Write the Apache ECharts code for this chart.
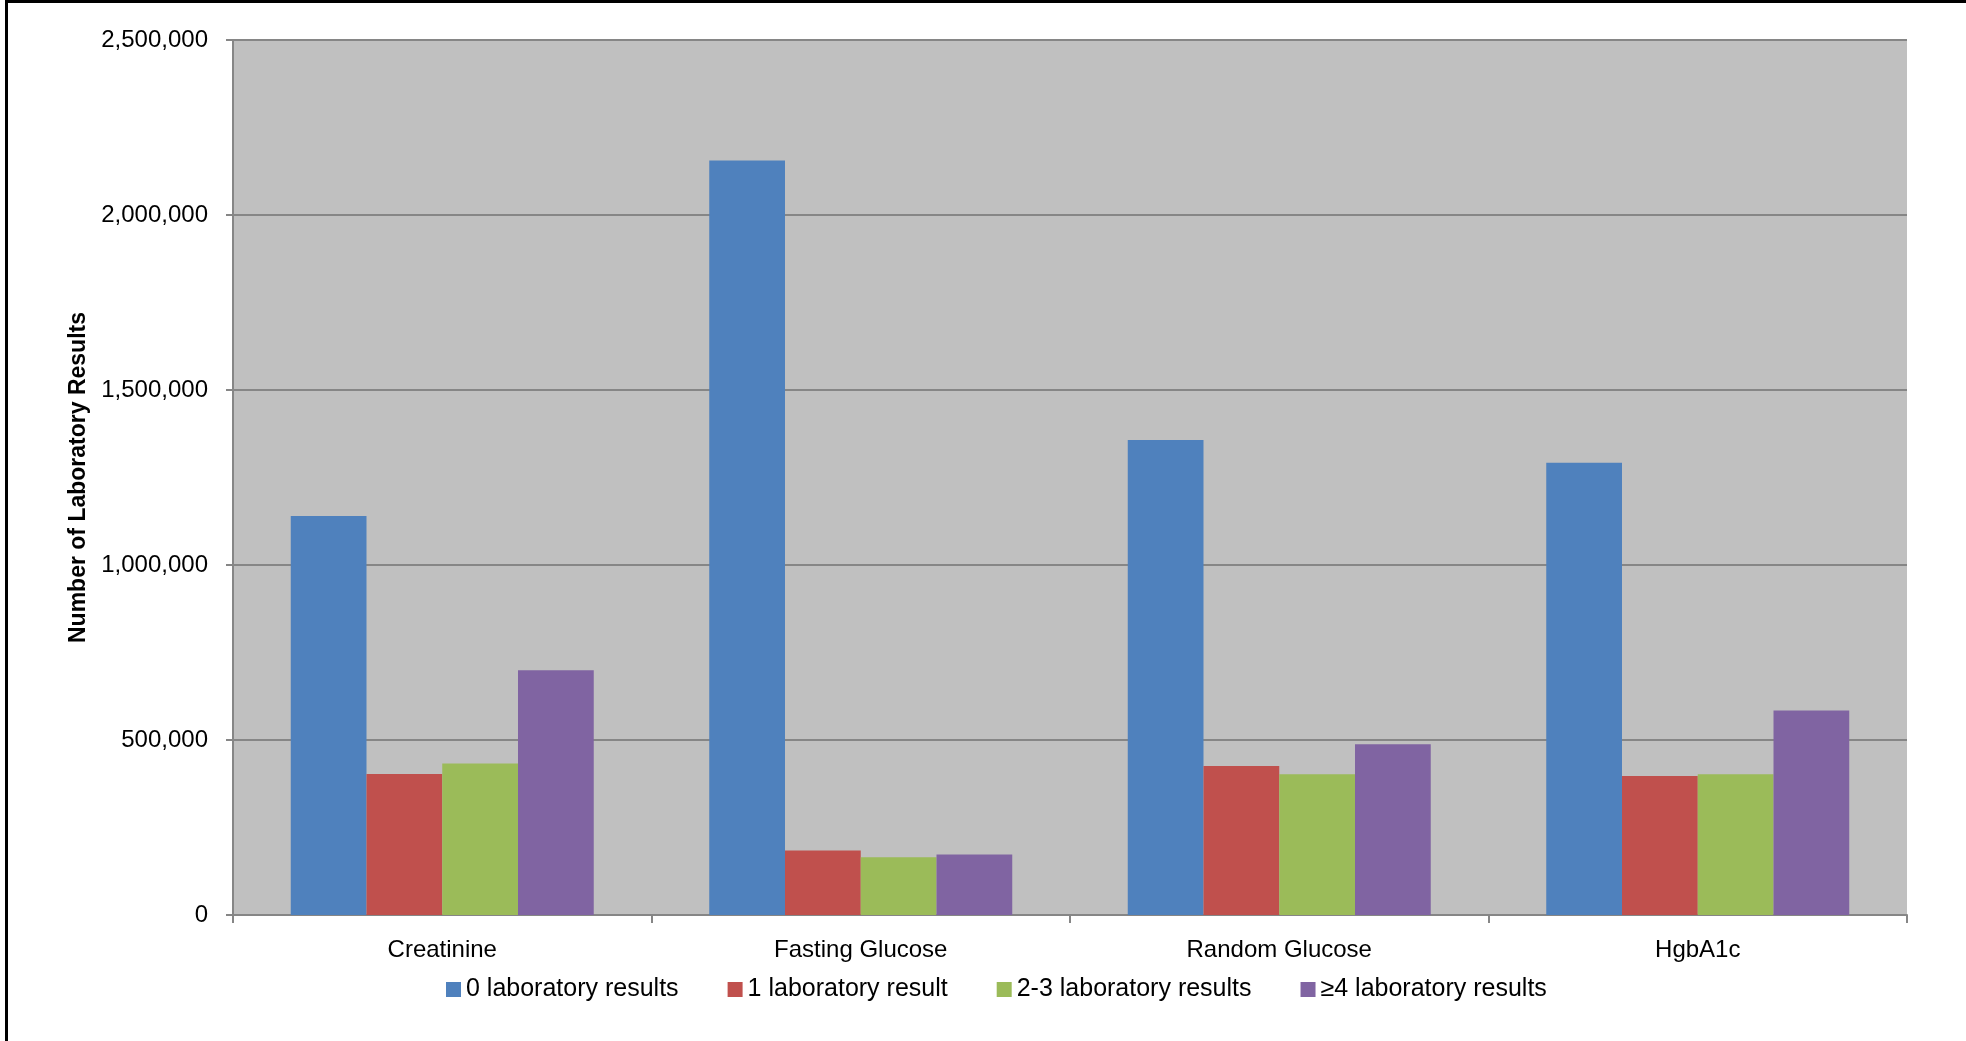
<!DOCTYPE html>
<html>
<head>
<meta charset="utf-8">
<script src="https://cdn.jsdelivr.net/npm/echarts@6/dist/echarts.min.js"></script>
<style>
  html, body { margin: 0; padding: 0; background: #fff; }
  #frame { position: absolute; left: 5px; top: 0; width: 1961px; height: 1041px; box-sizing: border-box;
           border-left: 3px solid #000; border-top: 3px solid #000; pointer-events: none; z-index: 2; }
  #chart { position: absolute; left: 0; top: 0; width: 1966px; height: 1041px; }
</style>
</head>
<body>
<div id="chart"></div>
<div id="frame"></div>
<script>
const categories = ['Creatinine', 'Fasting Glucose', 'Random Glucose', 'HgbA1c'];
const seriesNames = ['0 laboratory results', '1 laboratory result', '2-3 laboratory results', '\u22654 laboratory results'];
const zeroResults = [1140000, 2156000, 1357000, 1292000];
const oneResult = [403000, 184000, 426000, 397000];
const twoThreeResults = [433000, 165000, 402000, 402000];
const fourPlusResults = [699000, 173000, 488000, 584000];
const yTicks = { min: 0, max: 2500000, interval: 500000 };
const yAxisTitle = 'Number of Laboratory Results';

const colors = ['#4F81BD', '#C0504D', '#9BBB59', '#8064A2'];
const FONT = 'Liberation Sans';
const allValues = [zeroResults, oneResult, twoThreeResults, fourPlusResults];

const chart = echarts.init(document.getElementById('chart'));
chart.setOption({
  animation: false,
  color: colors,
  textStyle: { fontFamily: FONT },
  grid: { left: 233, right: 59, top: 40, bottom: 126, show: true, backgroundColor: '#C0C0C0', borderWidth: 0 },
  legend: {
    data: seriesNames,
    left: 441, top: 972,
    itemWidth: 15, itemHeight: 15, itemGap: 49,
    icon: 'rect',
    textStyle: { fontFamily: FONT, fontSize: 25, color: '#000' }
  },
  xAxis: {
    type: 'category',
    data: categories,
    axisLine: { lineStyle: { color: '#868686', width: 2 } },
    axisTick: { show: true, length: 8, lineStyle: { color: '#868686', width: 2 } },
    axisLabel: { fontFamily: FONT, fontSize: 24, color: '#000', margin: 23 },
    splitLine: { show: false }
  },
  yAxis: {
    type: 'value',
    min: yTicks.min, max: yTicks.max, interval: yTicks.interval,
    name: yAxisTitle,
    nameLocation: 'middle',
    nameGap: 143,
    nameRotate: 90,
    nameTextStyle: { fontFamily: FONT, fontSize: 23, fontWeight: 'bold', color: '#000' },
    axisLine: { show: true, lineStyle: { color: '#868686', width: 2 } },
    axisTick: { show: true, length: 7, lineStyle: { color: '#868686', width: 2 } },
    axisLabel: { fontFamily: FONT, fontSize: 24, color: '#000', margin: 25,
                 formatter: v => v.toLocaleString('en-US') },
    splitLine: { show: true, lineStyle: { color: '#868686', width: 2 } }
  },
  series: seriesNames.map((name, i) => ({
    name: name,
    type: 'bar',
    data: allValues[i],
    barGap: '0%',
    barCategoryGap: '27.6%',
    itemStyle: { color: colors[i] }
  }))
});
</script>
</body>
</html>
